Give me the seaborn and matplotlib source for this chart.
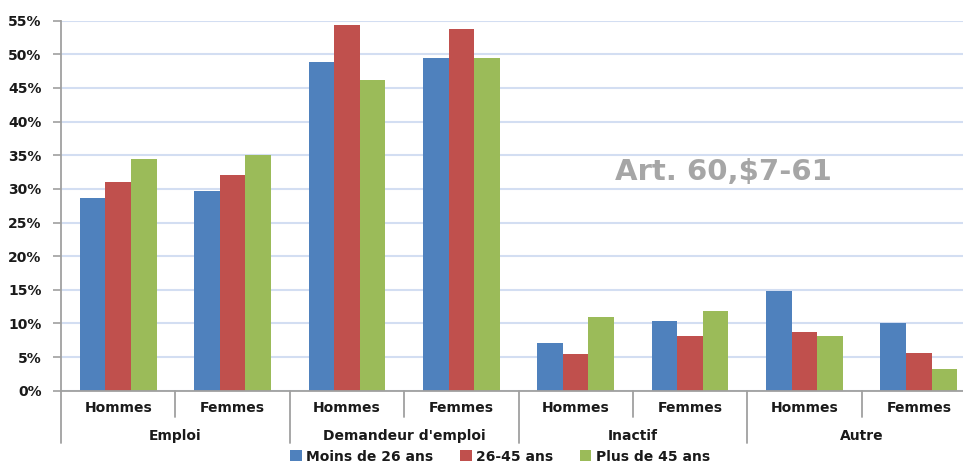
import matplotlib
matplotlib.use("Agg")
import matplotlib.pyplot as plt
import seaborn as sns
import pandas as pd
from matplotlib.ticker import FuncFormatter
from matplotlib.patches import Patch

groups = ["Emploi", "Demandeur d'emploi", "Inactif", "Autre"]
sexes = ["Hommes", "Femmes"]
series = ["Moins de 26 ans", "26-45 ans", "Plus de 45 ans"]
moins26 = [28.7, 29.7, 48.9, 49.4, 7.1, 10.3, 14.8, 10.1]
age26_45 = [31.0, 32.0, 54.3, 53.8, 5.5, 8.2, 8.7, 5.6]
plus45 = [34.4, 35.1, 46.2, 49.4, 10.9, 11.9, 8.1, 3.2]
colors = ["#4f81bd", "#c0504d", "#9bbb59"]
annotation = "Art. 60,$7-61"

cats = [f"{g}|{s}" for g in groups for s in sexes]
rows = []
for name, vals in zip(series, [moins26, age26_45, plus45]):
    for c, v in zip(cats, vals):
        rows.append({"cat": c, "serie": name, "val": v})
df = pd.DataFrame(rows)

sns.set_theme(style="white")
plt.rcParams["font.family"] = ["DejaVu Sans"]

fig = plt.figure(figsize=(9.63, 4.65), dpi=100)
W, H = 963, 465
left_px, right_px, top_px, bot_px = 61, 976, 20.7, 390.7
ax = fig.add_axes([left_px / W, (H - bot_px) / H, (right_px - left_px) / W, (bot_px - top_px) / H])

sns.barplot(data=df, x="cat", y="val", hue="serie", order=cats, hue_order=series,
            palette=colors, width=0.67, gap=0, saturation=1, ax=ax, legend=False,
            linewidth=0, errorbar=None)

ax.set_ylim(0, 55)
ax.set_xlim(-0.5, 7.5)
ax.set_yticks(range(0, 56, 5))
ax.yaxis.set_major_formatter(FuncFormatter(lambda v, p: f"{int(v)}%"))
ax.tick_params(axis="y", which="major", left=True, length=6, width=1.2, color="#a0a0a0",
               labelsize=10, pad=8)
for lab in ax.get_yticklabels():
    lab.set_fontweight("bold")
    lab.set_color("#1a1a1a")
ax.set_xticks([])
ax.set_xlabel("")
ax.set_ylabel("")
ax.grid(axis="y", color="#d3def2", linewidth=1.5)
ax.set_axisbelow(True)
for s in ["top", "right"]:
    ax.spines[s].set_visible(False)
for s in ["left", "bottom"]:
    ax.spines[s].set_color("#a0a0a0")
    ax.spines[s].set_linewidth(1.3)

h_axes = bot_px - top_px
short_y = -(416.7 - bot_px) / h_axes
long_y = -(443 - bot_px) / h_axes
sub_y = -(408 - bot_px) / h_axes
grp_y = -(436 - bot_px) / h_axes
trans = ax.get_xaxis_transform()
for i in range(9):
    x = i - 0.5
    y0 = long_y if i % 2 == 0 else short_y
    ax.plot([x, x], [0, y0], transform=trans, color="#a0a0a0", lw=1.3, clip_on=False)
for i, c in enumerate(cats):
    ax.text(i, sub_y, c.split("|")[1], transform=trans, ha="center", va="center",
            fontsize=10, fontweight="bold", color="#1a1a1a")
for j, g in enumerate(groups):
    ax.text(2 * j + 0.5, grp_y, g, transform=trans, ha="center", va="center",
            fontsize=10, fontweight="bold", color="#1a1a1a")

ax.text(723 / W, (H - 171.7) / H, annotation, transform=fig.transFigure, ha="center",
        va="center", fontsize=21, fontweight="bold", color="#a6a6a6")

handles = [Patch(facecolor=c, edgecolor="none", label=s) for c, s in zip(colors, series)]
leg = fig.legend(handles=handles, loc="center", bbox_to_anchor=(500 / W, (H - 456.5) / H),
                 ncol=3, frameon=False, handlelength=0.86, handleheight=0.86,
                 handletextpad=0.3, columnspacing=1.9, borderpad=0.1,
                 prop={"size": 10, "weight": "bold"})
for t in leg.get_texts():
    t.set_color("#1a1a1a")

fig.savefig("out.png", dpi=100)
